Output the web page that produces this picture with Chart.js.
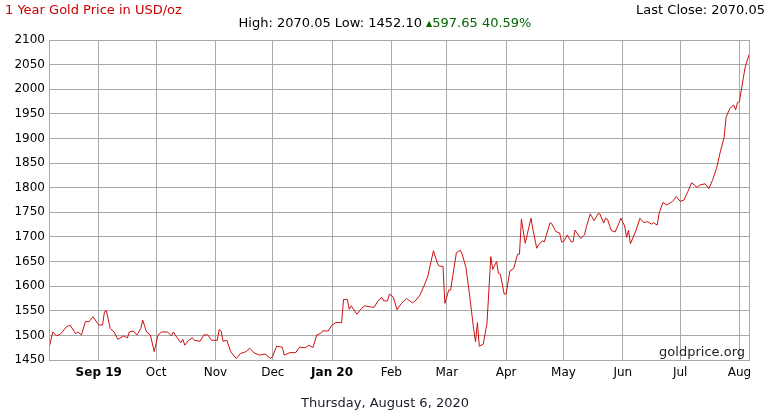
<!DOCTYPE html>
<html>
<head>
<meta charset="utf-8">
<script src="https://cdn.jsdelivr.net/npm/chart.js@4/dist/chart.umd.min.js"></script>
<style>
  body { margin: 0; background: #fff; }
  #wrap { position: relative; width: 770px; height: 410px; font-family: "DejaVu Sans", Verdana, sans-serif; font-size: 13px; }
  #goldChart { position: absolute; left: 0; top: 0; }
  .txt { position: absolute; white-space: nowrap; line-height: 15px; }
  #title { left: 5px; top: 2px; color: #cc0000; }
  #last { right: 5px; top: 2px; color: #000; }
  #stats { left: 0; width: 770px; text-align: center; top: 15px; color: #000; }
  #stats .up { color: #006600; }
  #stats .tri { font-size: 8px; vertical-align: 1px; }
  #footer { left: 0; width: 770px; text-align: center; top: 395px; color: #1a1a2e; }
</style>
</head>
<body>
<div id="wrap">
  <canvas id="goldChart" width="770" height="410"></canvas>
  <div class="txt" id="title">1 Year Gold Price in USD/oz</div>
  <div class="txt" id="last">Last Close: 2070.05</div>
  <div class="txt" id="stats">High: 2070.05 Low: 1452.10 <span class="up"><span class="tri">&#9650;</span>597.65 40.59%</span></div>
  <div class="txt" id="footer">Thursday, August 6, 2020</div>
</div>
<script>
// days counted from Aug 6, 2019
let days = [0, 2, 4, 6, 7, 9, 11, 14, 15, 17, 19, 21, 23, 26, 28, 29, 30, 32, 34, 36,
    39, 41, 42, 44, 46, 48, 49, 51, 53, 55, 57, 59, 62, 64, 65, 67, 69, 70, 71, 73,
    75, 76, 79, 81, 83, 85, 88, 89, 90, 91, 93, 95, 96, 98, 100, 103, 105, 107, 110, 113,
    116, 117, 119, 122, 123, 126, 129, 131, 134, 136, 138, 140, 142, 143, 146, 148, 150, 153, 154, 156,
    157, 158, 161, 163, 165, 168, 170, 172, 174, 175, 177, 178, 180, 182, 184, 187, 190, 192, 194, 196,
    198, 201, 203, 204, 206, 207, 209, 210, 212, 213, 215, 216, 218, 220, 222, 223, 224, 225, 227, 229,
    231, 232, 234, 235, 236, 238, 239, 241, 243, 245, 246, 247, 249, 252, 253, 255, 256, 258, 259, 262,
    263, 265, 267, 268, 269, 271, 273, 274, 275, 278, 280, 281, 283, 285, 287, 288, 290, 291, 292, 294,
    296, 298, 299, 301, 302, 303, 304, 307, 309, 311, 313, 315, 316, 318, 319, 321, 323, 326, 328, 330,
    332, 334, 336, 339, 340, 343, 345, 347, 349, 351, 353, 354, 356, 358, 359, 360, 361, 363, 364, 366];
let prices = [1474, 1507, 1499, 1503, 1507, 1517, 1521, 1503, 1507, 1501, 1528, 1528, 1538, 1521, 1521, 1548, 1550, 1514, 1507, 1492,
    1499, 1495, 1507, 1509, 1501, 1514, 1531, 1507, 1501, 1467, 1501, 1507, 1507, 1499, 1507, 1495, 1485, 1492, 1480, 1490,
    1495, 1490, 1488, 1501, 1501, 1490, 1490, 1512, 1509, 1488, 1490, 1467, 1462, 1453, 1463, 1467, 1474, 1465, 1460, 1462,
    1453, 1458, 1478, 1476, 1460, 1465, 1465, 1476, 1475, 1480, 1475, 1501, 1504, 1509, 1509, 1521, 1526, 1526, 1573, 1573,
    1553, 1560, 1543, 1553, 1560, 1558, 1557, 1570, 1577, 1570, 1570, 1584, 1578, 1552, 1564, 1575, 1566, 1572, 1582, 1600,
    1619, 1672, 1647, 1641, 1640, 1565, 1592, 1592, 1643, 1668, 1673, 1665, 1638, 1579, 1514, 1487, 1526, 1478, 1482, 1524,
    1660, 1634, 1650, 1626, 1624, 1584, 1584, 1631, 1636, 1665, 1665, 1736, 1687, 1738, 1716, 1677, 1684, 1692, 1690, 1729,
    1726, 1711, 1708, 1690, 1690, 1704, 1690, 1690, 1714, 1697, 1704, 1721, 1747, 1733, 1747, 1747, 1728, 1738, 1736, 1713,
    1710, 1728, 1738, 1722, 1699, 1714, 1686, 1714, 1738, 1729, 1731, 1726, 1729, 1724, 1748, 1770, 1765, 1772, 1782, 1772,
    1775, 1792, 1810, 1800, 1805, 1808, 1798, 1816, 1839, 1873, 1902, 1943, 1961, 1968, 1958, 1973, 1975, 2022, 2045, 2070];

let monthDays = [26, 56, 87, 117, 148, 179, 208, 239, 269, 300, 330, 361];
let monthLabels = ["Sep 19", "Oct", "Nov", "Dec", "Jan 20", "Feb", "Mar", "Apr", "May", "Jun", "Jul", "Aug"];
let boldLabels = ["Sep 19", "Jan 20"];

let gridColor = "#a9a9a9";

const frame = {
    id: "frame",
    afterDraw(chart) {
        const c = chart.ctx;
        const a = chart.chartArea;
        c.save();
        c.strokeStyle = gridColor;
        c.lineWidth = 1;
        c.strokeRect(Math.round(a.left) + 0.5, Math.round(a.top) + 0.5, Math.round(a.right - a.left), Math.round(a.bottom - a.top));
        c.fillStyle = "#222";
        c.font = "13px 'DejaVu Sans'";
        c.textAlign = "right";
        c.textBaseline = "alphabetic";
        c.fillText("goldprice.org", a.right - 4, a.bottom - 4);
        c.restore();
    }
};

function ready() {
    const ctx = document.getElementById("goldChart").getContext("2d");
    const points = days.map((d, i) => ({ x: d, y: prices[i] }));

    new Chart(ctx, {
        type: "line",
        data: {
            datasets: [{
                data: points,
                borderColor: "#cc1111",
                borderWidth: 1,
                pointRadius: 0,
                tension: 0,
                fill: false
            }]
        },
        options: {
            responsive: false,
            animation: false,
            layout: { padding: { left: 0, right: 21, top: 40, bottom: 0 } },
            plugins: { legend: { display: false }, tooltip: { enabled: false } },
            scales: {
                x: {
                    type: "linear",
                    min: 0,
                    max: 366,
                    afterBuildTicks: (scale) => {
                        scale.ticks = monthDays.map(v => ({ value: v }));
                    },
                    afterFit: (scale) => { scale.height = 50; },
                    grid: { color: gridColor, drawTicks: false },
                    border: { color: gridColor },
                    ticks: {
                        autoSkip: false,
                        maxRotation: 0,
                        padding: 6,
                        color: "#000",
                        font: (c) => ({
                            family: "DejaVu Sans",
                            size: 12,
                            weight: c.tick && boldLabels.includes(monthLabels[monthDays.indexOf(c.tick.value)]) ? "bold" : "normal"
                        }),
                        callback: (v) => monthLabels[monthDays.indexOf(v)]
                    }
                },
                y: {
                    min: 1450,
                    max: 2100,
                    afterFit: (scale) => { scale.width = 49; },
                    grid: { color: gridColor, drawTicks: false },
                    border: { color: gridColor },
                    ticks: {
                        stepSize: 50,
                        padding: 4,
                        color: "#000",
                        font: { family: "DejaVu Sans", size: 12 },
                        callback: (v) => String(v)
                    }
                }
            }
        },
        plugins: [frame]
    });
}

document.addEventListener("DOMContentLoaded", ready);
</script>
</body>
</html>
